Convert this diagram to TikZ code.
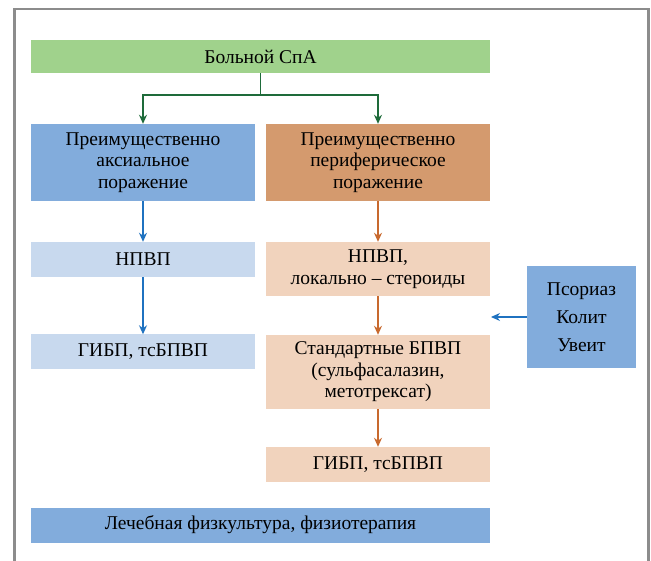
\documentclass[tikz,border=0pt]{standalone}
\usepackage{fontspec}
\setmainfont{Liberation Serif}
\usetikzlibrary{arrows.meta}
\definecolor{cgreen}{HTML}{A0D28C}
\definecolor{cblue}{HTML}{82ACDC}
\definecolor{clblue}{HTML}{C8D9EE}
\definecolor{corange}{HTML}{D49A6E}
\definecolor{clorange}{HTML}{F1D3BD}
\definecolor{agreen}{HTML}{1E6B3A}
\definecolor{ablue}{HTML}{1F72C0}
\definecolor{aorange}{HTML}{C8692E}
\definecolor{frame}{HTML}{8C8C8C}
\tikzset{
  box/.style={draw=none, inner sep=0pt, align=center, font=\fontsize{19.5}{21.5}\selectfont},
  arr/.style={line width=1.3pt, -{Stealth[length=9pt,width=8pt]}},
}
\begin{document}
\begin{tikzpicture}[x=1pt,y=-1pt]
\useasboundingbox (0,0) rectangle (651,561);
\fill[white] (0,0) rectangle (651,561);
\draw[frame, line width=2.5pt] (14.5,561) -- (14.5,9) -- (648.5,9) -- (648.5,561);
% boxes
\node[box, fill=cgreen, minimum width=459pt, minimum height=33pt] (spa) at (260.5,56.5) {Больной СпА};
\node[box, fill=cblue, minimum width=224pt, minimum height=77pt] (ax) at (143,162.5) {Преимущественно\\аксиальное\\поражение};
\node[box, fill=corange, minimum width=224pt, minimum height=77pt] (per) at (378,162.5) {Преимущественно\\периферическое\\поражение};
\node[box, fill=clblue, minimum width=224pt, minimum height=35pt] (n1) at (143,259.5) {НПВП};
\node[box, fill=clblue, minimum width=224pt, minimum height=35pt] (g1) at (143,352) {ГИБП, тсБПВП};
\node[box, fill=clorange, minimum width=224pt, minimum height=54pt] (n2) at (378,269) {НПВП,\\локально -- стероиды};
\node[box, fill=clorange, minimum width=224pt, minimum height=74pt] (s2) at (378,372) {Стандартные БПВП\\(сульфасалазин,\\метотрексат)};
\node[box, fill=clorange, minimum width=224pt, minimum height=35pt] (g2) at (378,464.5) {ГИБП, тсБПВП};
\node[box, fill=cblue, minimum width=459pt, minimum height=35pt] (lfk) at (260.5,525) {Лечебная физкультура, физиотерапия};
\node[box, fill=cblue, minimum width=109pt, minimum height=102pt, font=\fontsize{19.5}{28}\selectfont] (pso) at (581.5,317) {Псориаз\\Колит\\Увеит};
\coordinate (gap) at (491,317);
% connectors
\draw[agreen, line width=1.3pt] (spa.south) -- (260.5,95);
\draw[agreen, arr] (260.5,95) -| (ax.north);
\draw[agreen, arr] (260.5,95) -| (per.north);
\draw[ablue, arr] (ax) -- (n1);
\draw[ablue, arr] (n1) -- (g1);
\draw[aorange, arr] (per) -- (n2);
\draw[aorange, arr] (n2) -- (s2);
\draw[aorange, arr] (s2) -- (g2);
\draw[ablue, arr] (pso.west) -- (gap);
\end{tikzpicture}
\end{document}
